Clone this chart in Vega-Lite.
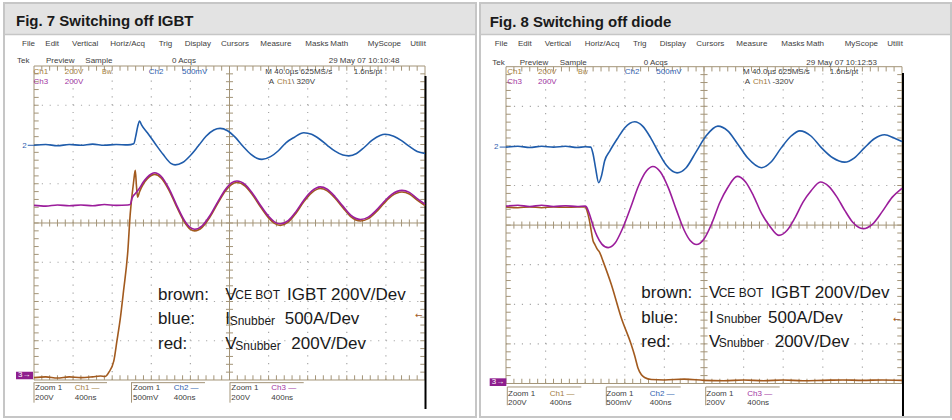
{
"$schema":"https://vega.github.io/schema/vega-lite/v6.json",
"background":"#ffffff",
"padding":{"left":2,"top":2,"right":0,"bottom":0},
"spacing":4,
"bounds":"flush",
"config":{"view":{"stroke":"#c6c6c6","strokeWidth":2},"text":{"font":"Liberation Sans"}},
"datasets":{
"xt":[{"x":0.2},{"x":0.4},{"x":0.6},{"x":0.8},{"x":1},{"x":1.2},{"x":1.4},{"x":1.6},{"x":1.8},{"x":2},{"x":2.2},{"x":2.4},{"x":2.6},{"x":2.8},{"x":3},{"x":3.2},{"x":3.4},{"x":3.6},{"x":3.8},{"x":4},{"x":4.2},{"x":4.4},{"x":4.6},{"x":4.8},{"x":5},{"x":5.2},{"x":5.4},{"x":5.6},{"x":5.8},{"x":6},{"x":6.2},{"x":6.4},{"x":6.6},{"x":6.8},{"x":7},{"x":7.2},{"x":7.4},{"x":7.6},{"x":7.8},{"x":8},{"x":8.2},{"x":8.4},{"x":8.6},{"x":8.8},{"x":9},{"x":9.2},{"x":9.4},{"x":9.6},{"x":9.8}],
"yt":[{"y":0.2},{"y":0.4},{"y":0.6},{"y":0.8},{"y":1},{"y":1.2},{"y":1.4},{"y":1.6},{"y":1.8},{"y":2},{"y":2.2},{"y":2.4},{"y":2.6},{"y":2.8},{"y":3},{"y":3.2},{"y":3.4},{"y":3.6},{"y":3.8},{"y":4},{"y":4.2},{"y":4.4},{"y":4.6},{"y":4.8},{"y":5},{"y":5.2},{"y":5.4},{"y":5.6},{"y":5.8},{"y":6},{"y":6.2},{"y":6.4},{"y":6.6},{"y":6.8},{"y":7},{"y":7.2},{"y":7.4},{"y":7.6},{"y":7.8}],
"gv":[{"x":1},{"x":2},{"x":3},{"x":4},{"x":6},{"x":7},{"x":8},{"x":9}],
"gh":[{"y":1},{"y":2},{"y":3},{"y":5},{"y":6},{"y":7}],
"shapes7":[
{"role":"header","x":-0.742,"x2":11.279,"y":8.815,"y2":9.58},
{"role":"sep","x":-0.767,"x2":11.304,"y":8.803,"y2":8.803},
{"role":"frame","x":0,"x2":10,"y":0,"y2":8},
{"role":"tan","x":5,"x2":5,"y":0,"y2":8},
{"role":"tan","x":0,"x2":10,"y":4,"y2":4},
{"role":"tan","x":-0.008,"x2":1.867,"y":-0.068,"y2":-0.068},
{"role":"tan","x":2.481,"x2":4.373,"y":-0.068,"y2":-0.068},
{"role":"tan","x":5.005,"x2":6.898,"y":-0.068,"y2":-0.068},
{"role":"tan","x":0,"x2":0,"y":-0.068,"y2":-0.578},
{"role":"tan","x":2.494,"x2":2.494,"y":-0.068,"y2":-0.578},
{"role":"tan","x":5.013,"x2":5.013,"y":-0.068,"y2":-0.578},
{"role":"black","x":10.013,"x2":10.013,"y":-0.739,"y2":7.745},
{"role":"box","x":-0.46,"x2":-0.026,"y":0.018,"y2":0.211},
{"role":"dash","x":-0.16,"x2":0,"y":5.98,"y2":5.98}
],
"shapes8":[
{"role":"header","x":-0.631,"x2":11.212,"y":8.826,"y2":9.583},
{"role":"sep","x":-0.657,"x2":11.237,"y":8.813,"y2":8.813},
{"role":"frame","x":0,"x2":10,"y":0,"y2":8},
{"role":"tan","x":5,"x2":5,"y":0,"y2":8},
{"role":"tan","x":0,"x2":10,"y":4,"y2":4},
{"role":"tan","x":0.033,"x2":1.902,"y":-0.088,"y2":-0.088},
{"role":"tan","x":2.533,"x2":4.412,"y":-0.088,"y2":-0.088},
{"role":"tan","x":5.043,"x2":6.912,"y":-0.088,"y2":-0.088},
{"role":"tan","x":0.033,"x2":0.033,"y":-0.088,"y2":-0.55},
{"role":"tan","x":2.533,"x2":2.533,"y":-0.088,"y2":-0.55},
{"role":"tan","x":5.043,"x2":5.043,"y":-0.088,"y2":-0.55},
{"role":"black","x":10.025,"x2":10.025,"y":-0.821,"y2":7.841},
{"role":"box","x":-0.412,"x2":0.008,"y":-0.063,"y2":0.131},
{"role":"dash","x":-0.16,"x2":0,"y":5.97,"y2":5.97}
],
"text7":[
{"role":"title","t":"Fig. 7 Switching off IGBT","x":-0.46,"y":9.134,"ch":"dark"},
{"role":"ui","t":"File","x":-0.307,"y":8.548,"ch":"ui"},
{"role":"ui","t":"Edit","x":0.289,"y":8.548,"ch":"ui"},
{"role":"ui","t":"Vertical","x":0.972,"y":8.548,"ch":"ui"},
{"role":"ui","t":"Horiz/Acq","x":1.951,"y":8.548,"ch":"ui"},
{"role":"ui","t":"Trig","x":3.189,"y":8.548,"ch":"ui"},
{"role":"ui","t":"Display","x":3.854,"y":8.548,"ch":"ui"},
{"role":"ui","t":"Cursors","x":4.783,"y":8.548,"ch":"ui"},
{"role":"ui","t":"Measure","x":5.788,"y":8.548,"ch":"ui"},
{"role":"ui","t":"Masks","x":6.939,"y":8.548,"ch":"ui"},
{"role":"ui","t":"Math","x":7.578,"y":8.548,"ch":"ui"},
{"role":"ui","t":"MyScope","x":8.535,"y":8.548,"ch":"ui"},
{"role":"ui","t":"Utilit","x":9.624,"y":8.548,"ch":"ui"},
{"role":"ui","t":"Tek","x":-0.435,"y":8.115,"ch":"ui"},
{"role":"ui","t":"Preview","x":0.307,"y":8.115,"ch":"ui"},
{"role":"ui","t":"Sample","x":1.312,"y":8.115,"ch":"ui"},
{"role":"ui","t":"0 Acqs","x":3.529,"y":8.115,"ch":"ui"},
{"role":"ui","t":"29 May 07 10:10:48","x":7.537,"y":8.115,"ch":"ui"},
{"role":"ui","t":"Ch1","x":-0.013,"y":7.855,"ch":"ch1"},
{"role":"ui","t":"200V","x":0.785,"y":7.855,"ch":"ch1"},
{"role":"bw","t":"Bw","x":1.739,"y":7.855,"ch":"ch1"},
{"role":"ui","t":"Ch2","x":2.934,"y":7.855,"ch":"ch2"},
{"role":"ui","t":"500mV","x":3.785,"y":7.855,"ch":"ch2"},
{"role":"ui","t":"M 40.0µs 625MS/s","x":5.916,"y":7.855,"ch":"ui"},
{"role":"ui","t":"1.6ns/pt","x":8.176,"y":7.855,"ch":"ui"},
{"role":"ui","t":"Ch3","x":-0.013,"y":7.6,"ch":"ch3"},
{"role":"ui","t":"200V","x":0.785,"y":7.6,"ch":"ch3"},
{"role":"ui","t":"A","x":6.003,"y":7.6,"ch":"ui"},
{"role":"ui","t":"Ch1","x":6.215,"y":7.6,"ch":"ch1"},
{"role":"ui","t":"\\ 320V","x":6.598,"y":7.6,"ch":"ui"},
{"role":"ui","t":"Zoom 1","x":0.026,"y":-0.204,"ch":"ui"},
{"role":"ui","t":"Ch1 —","x":1.041,"y":-0.204,"ch":"ch1"},
{"role":"ui","t":"Zoom 1","x":2.532,"y":-0.204,"ch":"ui"},
{"role":"ui","t":"Ch2 —","x":3.573,"y":-0.204,"ch":"ch2"},
{"role":"ui","t":"Zoom 1","x":5.046,"y":-0.204,"ch":"ui"},
{"role":"ui","t":"Ch3 —","x":6.069,"y":-0.204,"ch":"ch3"},
{"role":"ui","t":"200V","x":0.026,"y":-0.459,"ch":"ui"},
{"role":"ui","t":"400ns","x":1.041,"y":-0.459,"ch":"ui"},
{"role":"ui","t":"500mV","x":2.532,"y":-0.459,"ch":"ui"},
{"role":"ui","t":"400ns","x":3.573,"y":-0.459,"ch":"ui"},
{"role":"ui","t":"200V","x":5.046,"y":-0.459,"ch":"ui"},
{"role":"ui","t":"400ns","x":6.069,"y":-0.459,"ch":"ui"},
{"role":"ui","t":"2","x":-0.3,"y":5.95,"ch":"ch2"},
{"role":"arrow","t":"←","x":9.744,"y":1.648,"ch":"tr1"},
{"role":"marker","t":"3→","x":-0.409,"y":0.115,"ch":"w"},
{"role":"note","t":"brown:","x":3.171,"y":2.166,"ch":"dark"},
{"role":"note","t":"blue:","x":3.171,"y":1.546,"ch":"dark"},
{"role":"note","t":"red:","x":3.171,"y":0.91,"ch":"dark"},
{"role":"note","t":"V","x":4.893,"y":2.166,"ch":"dark"},
{"role":"note","t":"IGBT 200V/Dev","x":6.471,"y":2.166,"ch":"dark"},
{"role":"note","t":"I","x":4.893,"y":1.546,"ch":"dark"},
{"role":"note","t":"500A/Dev","x":6.412,"y":1.546,"ch":"dark"},
{"role":"note","t":"V","x":4.893,"y":0.91,"ch":"dark"},
{"role":"note","t":"200V/Dev","x":6.581,"y":0.91,"ch":"dark"},
{"role":"sub","t":"CE BOT","x":5.148,"y":2.156,"ch":"dark"},
{"role":"sub","t":"Snubber","x":5.005,"y":1.5,"ch":"dark"},
{"role":"sub","t":"Snubber","x":5.148,"y":0.865,"ch":"dark"}
],
"text8":[
{"role":"title","t":"Fig. 8 Switching off diode","x":-0.412,"y":9.141,"ch":"dark"},
{"role":"ui","t":"File","x":-0.285,"y":8.561,"ch":"ui"},
{"role":"ui","t":"Edit","x":0.303,"y":8.561,"ch":"ui"},
{"role":"ui","t":"Vertical","x":0.977,"y":8.561,"ch":"ui"},
{"role":"ui","t":"Horiz/Acq","x":1.987,"y":8.561,"ch":"ui"},
{"role":"ui","t":"Trig","x":3.207,"y":8.561,"ch":"ui"},
{"role":"ui","t":"Display","x":3.881,"y":8.561,"ch":"ui"},
{"role":"ui","t":"Cursors","x":4.806,"y":8.561,"ch":"ui"},
{"role":"ui","t":"Measure","x":5.816,"y":8.561,"ch":"ui"},
{"role":"ui","t":"Masks","x":6.952,"y":8.561,"ch":"ui"},
{"role":"ui","t":"Math","x":7.583,"y":8.561,"ch":"ui"},
{"role":"ui","t":"MyScope","x":8.553,"y":8.561,"ch":"ui"},
{"role":"ui","t":"Utilit","x":9.629,"y":8.561,"ch":"ui"},
{"role":"ui","t":"Tek","x":-0.346,"y":8.106,"ch":"ui"},
{"role":"ui","t":"Preview","x":0.346,"y":8.106,"ch":"ui"},
{"role":"ui","t":"Sample","x":1.356,"y":8.106,"ch":"ui"},
{"role":"ui","t":"0 Acqs","x":3.477,"y":8.106,"ch":"ui"},
{"role":"ui","t":"29 May 07 10:12:53","x":7.583,"y":8.106,"ch":"ui"},
{"role":"ui","t":"Ch1","x":0.033,"y":7.874,"ch":"ch1"},
{"role":"ui","t":"200V","x":0.808,"y":7.874,"ch":"ch1"},
{"role":"bw","t":"Bw","x":1.818,"y":7.874,"ch":"ch1"},
{"role":"ui","t":"Ch2","x":2.997,"y":7.874,"ch":"ch2"},
{"role":"ui","t":"500mV","x":3.795,"y":7.874,"ch":"ch2"},
{"role":"ui","t":"M 40.0µs 625MS/s","x":5.985,"y":7.874,"ch":"ui"},
{"role":"ui","t":"1.6ns/pt","x":8.174,"y":7.874,"ch":"ui"},
{"role":"ui","t":"Ch3","x":0.033,"y":7.621,"ch":"ch3"},
{"role":"ui","t":"200V","x":0.808,"y":7.621,"ch":"ch3"},
{"role":"ui","t":"A","x":6.028,"y":7.621,"ch":"ui"},
{"role":"ui","t":"Ch1","x":6.237,"y":7.621,"ch":"ch1"},
{"role":"ui","t":"\\ -320V","x":6.616,"y":7.621,"ch":"ui"},
{"role":"ui","t":"Zoom 1","x":0.051,"y":-0.258,"ch":"ui"},
{"role":"ui","t":"Ch1 —","x":1.104,"y":-0.258,"ch":"ch1"},
{"role":"ui","t":"Zoom 1","x":2.533,"y":-0.258,"ch":"ui"},
{"role":"ui","t":"Ch2 —","x":3.629,"y":-0.258,"ch":"ch2"},
{"role":"ui","t":"Zoom 1","x":5.058,"y":-0.258,"ch":"ui"},
{"role":"ui","t":"Ch3 —","x":6.093,"y":-0.258,"ch":"ch3"},
{"role":"ui","t":"200V","x":0.051,"y":-0.5,"ch":"ui"},
{"role":"ui","t":"400ns","x":1.104,"y":-0.5,"ch":"ui"},
{"role":"ui","t":"500mV","x":2.533,"y":-0.5,"ch":"ui"},
{"role":"ui","t":"400ns","x":3.629,"y":-0.5,"ch":"ui"},
{"role":"ui","t":"200V","x":5.058,"y":-0.5,"ch":"ui"},
{"role":"ui","t":"400ns","x":6.093,"y":-0.5,"ch":"ui"},
{"role":"ui","t":"2","x":-0.3,"y":5.97,"ch":"ch2"},
{"role":"arrow","t":"←","x":9.773,"y":1.621,"ch":"tr1"},
{"role":"marker","t":"3→","x":-0.36,"y":0.034,"ch":"w"},
{"role":"note","t":"brown:","x":3.417,"y":2.293,"ch":"dark"},
{"role":"note","t":"blue:","x":3.417,"y":1.662,"ch":"dark"},
{"role":"note","t":"red:","x":3.417,"y":1.056,"ch":"dark"},
{"role":"note","t":"V","x":5.126,"y":2.293,"ch":"dark"},
{"role":"note","t":"IGBT 200V/Dev","x":6.684,"y":2.293,"ch":"dark"},
{"role":"note","t":"I","x":5.126,"y":1.662,"ch":"dark"},
{"role":"note","t":"500A/Dev","x":6.616,"y":1.662,"ch":"dark"},
{"role":"note","t":"V","x":5.126,"y":1.056,"ch":"dark"},
{"role":"note","t":"200V/Dev","x":6.785,"y":1.056,"ch":"dark"},
{"role":"sub","t":"CE BOT","x":5.371,"y":2.283,"ch":"dark"},
{"role":"sub","t":"Snubber","x":5.303,"y":1.62,"ch":"dark"},
{"role":"sub","t":"Snubber","x":5.371,"y":1.014,"ch":"dark"}
],
"traces7":[
{"ch":"blue","x":0,"y":5.98},{"ch":"blue","x":0.3,"y":6.0},{"ch":"blue","x":0.6,"y":5.97},{"ch":"blue","x":0.9,"y":6.0},{"ch":"blue","x":1.2,"y":5.98},{"ch":"blue","x":1.5,"y":6.01},{"ch":"blue","x":1.8,"y":5.98},{"ch":"blue","x":2.1,"y":6.0},{"ch":"blue","x":2.4,"y":5.99},{"ch":"blue","x":2.55,"y":6.02},{"ch":"blue","x":2.6,"y":6.2},{"ch":"blue","x":2.65,"y":6.45},{"ch":"blue","x":2.7,"y":6.6},{"ch":"blue","x":2.75,"y":6.5},{"ch":"blue","x":2.9,"y":6.3},{"ch":"blue","x":3.1,"y":6.02},{"ch":"blue","x":3.3,"y":5.75},{"ch":"blue","x":3.5,"y":5.52},{"ch":"blue","x":3.61,"y":5.48},{"ch":"blue","x":3.8,"y":5.54},{"ch":"blue","x":4.0,"y":5.72},{"ch":"blue","x":4.2,"y":5.96},{"ch":"blue","x":4.4,"y":6.21},{"ch":"blue","x":4.6,"y":6.37},{"ch":"blue","x":4.76,"y":6.41},{"ch":"blue","x":4.95,"y":6.35},{"ch":"blue","x":5.15,"y":6.18},{"ch":"blue","x":5.35,"y":5.95},{"ch":"blue","x":5.55,"y":5.75},{"ch":"blue","x":5.7,"y":5.65},{"ch":"blue","x":5.83,"y":5.62},{"ch":"blue","x":6.05,"y":5.69},{"ch":"blue","x":6.25,"y":5.84},{"ch":"blue","x":6.45,"y":6.05},{"ch":"blue","x":6.65,"y":6.18},{"ch":"blue","x":6.9,"y":6.3},{"ch":"blue","x":7.1,"y":6.26},{"ch":"blue","x":7.3,"y":6.14},{"ch":"blue","x":7.5,"y":5.98},{"ch":"blue","x":7.7,"y":5.83},{"ch":"blue","x":7.9,"y":5.73},{"ch":"blue","x":8.05,"y":5.71},{"ch":"blue","x":8.25,"y":5.77},{"ch":"blue","x":8.45,"y":5.93},{"ch":"blue","x":8.65,"y":6.11},{"ch":"blue","x":8.85,"y":6.23},{"ch":"blue","x":8.98,"y":6.26},{"ch":"blue","x":9.2,"y":6.21},{"ch":"blue","x":9.4,"y":6.1},{"ch":"blue","x":9.6,"y":5.95},{"ch":"blue","x":9.8,"y":5.82},{"ch":"blue","x":10,"y":5.77},
{"ch":"purple","x":0,"y":4.45},{"ch":"purple","x":0.3,"y":4.43},{"ch":"purple","x":0.6,"y":4.46},{"ch":"purple","x":0.9,"y":4.44},{"ch":"purple","x":1.2,"y":4.46},{"ch":"purple","x":1.5,"y":4.44},{"ch":"purple","x":1.8,"y":4.47},{"ch":"purple","x":2.1,"y":4.45},{"ch":"purple","x":2.4,"y":4.46},{"ch":"purple","x":2.46,"y":4.47},{"ch":"purple","x":2.51,"y":4.64},{"ch":"purple","x":2.6,"y":4.76},{"ch":"purple","x":2.68,"y":4.86},{"ch":"purple","x":2.8,"y":5.05},{"ch":"purple","x":2.9,"y":5.17},{"ch":"purple","x":3.0,"y":5.25},{"ch":"purple","x":3.09,"y":5.28},{"ch":"purple","x":3.25,"y":5.19},{"ch":"purple","x":3.45,"y":4.88},{"ch":"purple","x":3.65,"y":4.45},{"ch":"purple","x":3.85,"y":4.06},{"ch":"purple","x":4.0,"y":3.88},{"ch":"purple","x":4.11,"y":3.84},{"ch":"purple","x":4.3,"y":3.93},{"ch":"purple","x":4.5,"y":4.19},{"ch":"purple","x":4.7,"y":4.54},{"ch":"purple","x":4.9,"y":4.86},{"ch":"purple","x":5.05,"y":5.02},{"ch":"purple","x":5.19,"y":5.07},{"ch":"purple","x":5.4,"y":4.98},{"ch":"purple","x":5.6,"y":4.74},{"ch":"purple","x":5.8,"y":4.44},{"ch":"purple","x":6.0,"y":4.17},{"ch":"purple","x":6.15,"y":4.03},{"ch":"purple","x":6.3,"y":3.98},{"ch":"purple","x":6.5,"y":4.06},{"ch":"purple","x":6.7,"y":4.29},{"ch":"purple","x":6.9,"y":4.58},{"ch":"purple","x":7.1,"y":4.81},{"ch":"purple","x":7.32,"y":4.92},{"ch":"purple","x":7.5,"y":4.86},{"ch":"purple","x":7.7,"y":4.67},{"ch":"purple","x":7.9,"y":4.43},{"ch":"purple","x":8.1,"y":4.2},{"ch":"purple","x":8.35,"y":4.09},{"ch":"purple","x":8.55,"y":4.15},{"ch":"purple","x":8.75,"y":4.32},{"ch":"purple","x":8.95,"y":4.54},{"ch":"purple","x":9.15,"y":4.73},{"ch":"purple","x":9.41,"y":4.83},{"ch":"purple","x":9.6,"y":4.78},{"ch":"purple","x":9.8,"y":4.62},{"ch":"purple","x":10,"y":4.48},
{"ch":"brown","x":0,"y":0.06},{"ch":"brown","x":0.3,"y":0.08},{"ch":"brown","x":0.6,"y":0.05},{"ch":"brown","x":0.9,"y":0.08},{"ch":"brown","x":1.2,"y":0.06},{"ch":"brown","x":1.5,"y":0.08},{"ch":"brown","x":1.7,"y":0.1},{"ch":"brown","x":1.82,"y":0.09},{"ch":"brown","x":1.91,"y":0.19},{"ch":"brown","x":2.04,"y":0.48},{"ch":"brown","x":2.12,"y":0.99},{"ch":"brown","x":2.21,"y":1.59},{"ch":"brown","x":2.29,"y":2.27},{"ch":"brown","x":2.4,"y":3.29},{"ch":"brown","x":2.46,"y":4.22},{"ch":"brown","x":2.55,"y":5.07},{"ch":"brown","x":2.59,"y":5.34},{"ch":"brown","x":2.62,"y":4.95},{"ch":"brown","x":2.65,"y":4.66},{"ch":"brown","x":2.7,"y":4.8},{"ch":"brown","x":2.8,"y":5.0},{"ch":"brown","x":2.9,"y":5.13},{"ch":"brown","x":3.0,"y":5.21},{"ch":"brown","x":3.09,"y":5.24},{"ch":"brown","x":3.25,"y":5.15},{"ch":"brown","x":3.45,"y":4.84},{"ch":"brown","x":3.65,"y":4.41},{"ch":"brown","x":3.85,"y":4.02},{"ch":"brown","x":4.0,"y":3.84},{"ch":"brown","x":4.11,"y":3.8},{"ch":"brown","x":4.3,"y":3.89},{"ch":"brown","x":4.5,"y":4.15},{"ch":"brown","x":4.7,"y":4.5},{"ch":"brown","x":4.9,"y":4.82},{"ch":"brown","x":5.05,"y":4.98},{"ch":"brown","x":5.19,"y":5.03},{"ch":"brown","x":5.4,"y":4.94},{"ch":"brown","x":5.6,"y":4.7},{"ch":"brown","x":5.8,"y":4.4},{"ch":"brown","x":6.0,"y":4.13},{"ch":"brown","x":6.15,"y":3.99},{"ch":"brown","x":6.3,"y":3.94},{"ch":"brown","x":6.5,"y":4.02},{"ch":"brown","x":6.7,"y":4.25},{"ch":"brown","x":6.9,"y":4.54},{"ch":"brown","x":7.1,"y":4.77},{"ch":"brown","x":7.32,"y":4.88},{"ch":"brown","x":7.5,"y":4.82},{"ch":"brown","x":7.7,"y":4.63},{"ch":"brown","x":7.9,"y":4.39},{"ch":"brown","x":8.1,"y":4.16},{"ch":"brown","x":8.35,"y":4.05},{"ch":"brown","x":8.55,"y":4.11},{"ch":"brown","x":8.75,"y":4.28},{"ch":"brown","x":8.95,"y":4.5},{"ch":"brown","x":9.15,"y":4.69},{"ch":"brown","x":9.41,"y":4.79},{"ch":"brown","x":9.6,"y":4.74},{"ch":"brown","x":9.8,"y":4.58},{"ch":"brown","x":10,"y":4.44}
],
"traces8":[
{"ch":"blue","x":0,"y":5.97},{"ch":"blue","x":0.3,"y":5.99},{"ch":"blue","x":0.6,"y":5.96},{"ch":"blue","x":0.9,"y":5.99},{"ch":"blue","x":1.2,"y":5.97},{"ch":"blue","x":1.5,"y":5.99},{"ch":"blue","x":1.8,"y":5.96},{"ch":"blue","x":2.0,"y":5.98},{"ch":"blue","x":2.14,"y":5.97},{"ch":"blue","x":2.2,"y":5.79},{"ch":"blue","x":2.26,"y":5.45},{"ch":"blue","x":2.34,"y":5.07},{"ch":"blue","x":2.41,"y":5.24},{"ch":"blue","x":2.49,"y":5.62},{"ch":"blue","x":2.62,"y":5.87},{"ch":"blue","x":2.83,"y":6.21},{"ch":"blue","x":3.0,"y":6.46},{"ch":"blue","x":3.25,"y":6.61},{"ch":"blue","x":3.45,"y":6.5},{"ch":"blue","x":3.65,"y":6.21},{"ch":"blue","x":3.85,"y":5.84},{"ch":"blue","x":4.05,"y":5.51},{"ch":"blue","x":4.32,"y":5.32},{"ch":"blue","x":4.55,"y":5.45},{"ch":"blue","x":4.8,"y":5.85},{"ch":"blue","x":5.05,"y":6.25},{"ch":"blue","x":5.35,"y":6.5},{"ch":"blue","x":5.6,"y":6.38},{"ch":"blue","x":5.85,"y":6.05},{"ch":"blue","x":6.1,"y":5.7},{"ch":"blue","x":6.45,"y":5.45},{"ch":"blue","x":6.7,"y":5.6},{"ch":"blue","x":6.95,"y":5.95},{"ch":"blue","x":7.2,"y":6.25},{"ch":"blue","x":7.42,"y":6.38},{"ch":"blue","x":7.7,"y":6.25},{"ch":"blue","x":7.95,"y":5.97},{"ch":"blue","x":8.25,"y":5.7},{"ch":"blue","x":8.55,"y":5.59},{"ch":"blue","x":8.8,"y":5.7},{"ch":"blue","x":9.05,"y":5.95},{"ch":"blue","x":9.3,"y":6.18},{"ch":"blue","x":9.56,"y":6.28},{"ch":"blue","x":9.8,"y":6.2},{"ch":"blue","x":10,"y":6.11},
{"ch":"purple","x":0,"y":4.48},{"ch":"purple","x":0.3,"y":4.5},{"ch":"purple","x":0.6,"y":4.47},{"ch":"purple","x":0.9,"y":4.5},{"ch":"purple","x":1.2,"y":4.47},{"ch":"purple","x":1.5,"y":4.49},{"ch":"purple","x":1.8,"y":4.47},{"ch":"purple","x":2.0,"y":4.48},{"ch":"purple","x":2.03,"y":4.46},{"ch":"purple","x":2.1,"y":4.3},{"ch":"purple","x":2.2,"y":3.98},{"ch":"purple","x":2.3,"y":3.72},{"ch":"purple","x":2.42,"y":3.52},{"ch":"purple","x":2.58,"y":3.43},{"ch":"purple","x":2.75,"y":3.54},{"ch":"purple","x":2.95,"y":3.93},{"ch":"purple","x":3.15,"y":4.45},{"ch":"purple","x":3.35,"y":5.0},{"ch":"purple","x":3.55,"y":5.37},{"ch":"purple","x":3.71,"y":5.48},{"ch":"purple","x":3.9,"y":5.34},{"ch":"purple","x":4.1,"y":4.94},{"ch":"purple","x":4.3,"y":4.39},{"ch":"purple","x":4.5,"y":3.87},{"ch":"purple","x":4.65,"y":3.61},{"ch":"purple","x":4.81,"y":3.51},{"ch":"purple","x":5.0,"y":3.65},{"ch":"purple","x":5.2,"y":4.05},{"ch":"purple","x":5.4,"y":4.57},{"ch":"purple","x":5.6,"y":4.95},{"ch":"purple","x":5.84,"y":5.23},{"ch":"purple","x":6.05,"y":5.09},{"ch":"purple","x":6.25,"y":4.74},{"ch":"purple","x":6.45,"y":4.3},{"ch":"purple","x":6.65,"y":3.99},{"ch":"purple","x":6.89,"y":3.74},{"ch":"purple","x":7.1,"y":3.87},{"ch":"purple","x":7.3,"y":4.19},{"ch":"purple","x":7.5,"y":4.58},{"ch":"purple","x":7.7,"y":4.86},{"ch":"purple","x":7.94,"y":5.09},{"ch":"purple","x":8.15,"y":4.98},{"ch":"purple","x":8.35,"y":4.72},{"ch":"purple","x":8.55,"y":4.38},{"ch":"purple","x":8.75,"y":4.08},{"ch":"purple","x":9.02,"y":3.91},{"ch":"purple","x":9.25,"y":4.02},{"ch":"purple","x":9.5,"y":4.34},{"ch":"purple","x":9.75,"y":4.7},{"ch":"purple","x":10,"y":4.93},
{"ch":"brown","x":0,"y":4.46},{"ch":"brown","x":0.3,"y":4.44},{"ch":"brown","x":0.6,"y":4.46},{"ch":"brown","x":0.9,"y":4.44},{"ch":"brown","x":1.2,"y":4.46},{"ch":"brown","x":1.5,"y":4.45},{"ch":"brown","x":1.8,"y":4.46},{"ch":"brown","x":2.0,"y":4.46},{"ch":"brown","x":2.05,"y":4.35},{"ch":"brown","x":2.1,"y":4.15},{"ch":"brown","x":2.14,"y":3.93},{"ch":"brown","x":2.2,"y":3.6},{"ch":"brown","x":2.24,"y":3.52},{"ch":"brown","x":2.3,"y":3.4},{"ch":"brown","x":2.37,"y":3.3},{"ch":"brown","x":2.45,"y":3.09},{"ch":"brown","x":2.66,"y":2.5},{"ch":"brown","x":2.91,"y":1.66},{"ch":"brown","x":3.16,"y":0.99},{"ch":"brown","x":3.25,"y":0.7},{"ch":"brown","x":3.33,"y":0.4},{"ch":"brown","x":3.42,"y":0.22},{"ch":"brown","x":3.5,"y":0.15},{"ch":"brown","x":3.67,"y":0.1},{"ch":"brown","x":4.0,"y":0.09},{"ch":"brown","x":4.5,"y":0.11},{"ch":"brown","x":5.0,"y":0.08},{"ch":"brown","x":5.5,"y":0.07},{"ch":"brown","x":6.0,"y":0.09},{"ch":"brown","x":6.5,"y":0.07},{"ch":"brown","x":7.0,"y":0.09},{"ch":"brown","x":7.5,"y":0.07},{"ch":"brown","x":8.0,"y":0.08},{"ch":"brown","x":8.5,"y":0.09},{"ch":"brown","x":9.0,"y":0.08},{"ch":"brown","x":9.5,"y":0.09},{"ch":"brown","x":10,"y":0.08}
]
},
"hconcat":[
{
"width":472,"height":414,
"layer":[
{
"encoding":{
"x":{"field":"x","type":"quantitative","scale":{"domain":[-0.7673,11.3043],"nice":false,"zero":false},"axis":null},
"y":{"field":"y","type":"quantitative","scale":{"domain":[-0.9427,9.6051],"nice":false,"zero":false},"axis":null}
},
"layer":[
{"data":{"name":"shapes7"},"transform":[{"filter":"datum.role==='header'"}],"mark":{"type":"rect","fill":"#e3e3e3"},"encoding":{"x2":{"field":"x2"},"y2":{"field":"y2"}}},
{"data":{"name":"shapes7"},"transform":[{"filter":"datum.role==='sep'"}],"mark":{"type":"rule","color":"#c6c6c6","strokeWidth":1.5},"encoding":{"x2":{"field":"x2"},"y2":{"field":"y2"}}}
]
},
{
"layer":[
{"data":{"name":"gv"},"mark":{"type":"rule","color":"#a8a8a8","strokeWidth":1.2,"strokeDash":[1.2,6.65]},"encoding":{"x":{"field":"x","type":"quantitative","scale":{"domain":[-0.7673,11.3043],"nice":false,"zero":false},"axis":null},"y":{"datum":0,"type":"quantitative","scale":{"domain":[-0.9427,9.6051],"nice":false,"zero":false},"axis":null},"y2":{"datum":8}}},
{"data":{"name":"gh"},"mark":{"type":"rule","color":"#a8a8a8","strokeWidth":1.2,"strokeDash":[1.2,6.62]},"encoding":{"y":{"field":"y","type":"quantitative","scale":{"domain":[-0.9427,9.6051],"nice":false,"zero":false},"axis":null},"x":{"datum":0,"type":"quantitative","scale":{"domain":[-0.7673,11.3043],"nice":false,"zero":false},"axis":null},"x2":{"datum":10}}},
{"data":{"name":"xt"},"mark":{"type":"rule","color":"#a39478","strokeWidth":1},"encoding":{"x":{"field":"x","type":"quantitative","scale":{"domain":[-0.7673,11.3043],"nice":false,"zero":false},"axis":null},"y":{"datum":3.91,"type":"quantitative","scale":{"domain":[-0.9427,9.6051],"nice":false,"zero":false},"axis":null},"y2":{"datum":4.09}}},
{"data":{"name":"xt"},"mark":{"type":"rule","color":"#a39478","strokeWidth":1},"encoding":{"x":{"field":"x","type":"quantitative","scale":{"domain":[-0.7673,11.3043],"nice":false,"zero":false},"axis":null},"y":{"datum":0,"type":"quantitative","scale":{"domain":[-0.9427,9.6051],"nice":false,"zero":false},"axis":null},"y2":{"datum":0.12}}},
{"data":{"name":"xt"},"mark":{"type":"rule","color":"#a39478","strokeWidth":1},"encoding":{"x":{"field":"x","type":"quantitative","scale":{"domain":[-0.7673,11.3043],"nice":false,"zero":false},"axis":null},"y":{"datum":7.88,"type":"quantitative","scale":{"domain":[-0.9427,9.6051],"nice":false,"zero":false},"axis":null},"y2":{"datum":8}}},
{"data":{"name":"yt"},"mark":{"type":"rule","color":"#a39478","strokeWidth":1},"encoding":{"y":{"field":"y","type":"quantitative","scale":{"domain":[-0.9427,9.6051],"nice":false,"zero":false},"axis":null},"x":{"datum":4.91,"type":"quantitative","scale":{"domain":[-0.7673,11.3043],"nice":false,"zero":false},"axis":null},"x2":{"datum":5.09}}},
{"data":{"name":"yt"},"mark":{"type":"rule","color":"#a39478","strokeWidth":1},"encoding":{"y":{"field":"y","type":"quantitative","scale":{"domain":[-0.9427,9.6051],"nice":false,"zero":false},"axis":null},"x":{"datum":0,"type":"quantitative","scale":{"domain":[-0.7673,11.3043],"nice":false,"zero":false},"axis":null},"x2":{"datum":0.12}}},
{"data":{"name":"yt"},"mark":{"type":"rule","color":"#a39478","strokeWidth":1},"encoding":{"y":{"field":"y","type":"quantitative","scale":{"domain":[-0.9427,9.6051],"nice":false,"zero":false},"axis":null},"x":{"datum":9.88,"type":"quantitative","scale":{"domain":[-0.7673,11.3043],"nice":false,"zero":false},"axis":null},"x2":{"datum":10}}}
]
},
{
"encoding":{
"x":{"field":"x","type":"quantitative","scale":{"domain":[-0.7673,11.3043],"nice":false,"zero":false},"axis":null},
"y":{"field":"y","type":"quantitative","scale":{"domain":[-0.9427,9.6051],"nice":false,"zero":false},"axis":null}
},
"layer":[
{"data":{"name":"shapes7"},"transform":[{"filter":"datum.role==='frame'"}],"mark":{"type":"rect","filled":false,"stroke":"#a39478","strokeWidth":1},"encoding":{"x2":{"field":"x2"},"y2":{"field":"y2"}}},
{"data":{"name":"shapes7"},"transform":[{"filter":"datum.role==='tan'"}],"mark":{"type":"rule","color":"#a39478","strokeWidth":1},"encoding":{"x2":{"field":"x2"},"y2":{"field":"y2"}}},
{"data":{"name":"shapes7"},"transform":[{"filter":"datum.role==='black'"}],"mark":{"type":"rule","color":"#000000","strokeWidth":2},"encoding":{"x2":{"field":"x2"},"y2":{"field":"y2"}}},
{"data":{"name":"shapes7"},"transform":[{"filter":"datum.role==='box'"}],"mark":{"type":"rect","fill":"#8e1e8e"},"encoding":{"x2":{"field":"x2"},"y2":{"field":"y2"}}},
{"data":{"name":"shapes7"},"transform":[{"filter":"datum.role==='dash'"}],"mark":{"type":"rule","color":"#2f62b0","strokeWidth":1},"encoding":{"x2":{"field":"x2"},"y2":{"field":"y2"}}},
{"data":{"name":"traces7"},"transform":[{"filter":"datum.ch==='brown'"}],"mark":{"type":"line","color":"#a25a1e","strokeWidth":1.6,"interpolate":"monotone"}},
{"data":{"name":"traces7"},"transform":[{"filter":"datum.ch==='blue'"}],"mark":{"type":"line","color":"#1f5cab","strokeWidth":1.6,"interpolate":"monotone"}},
{"data":{"name":"traces7"},"transform":[{"filter":"datum.ch==='purple'"}],"mark":{"type":"line","color":"#9b1d9b","strokeWidth":1.6,"interpolate":"monotone"}},
{"data":{"name":"text7"},"transform":[{"filter":"datum.role==='title'"}],"mark":{"type":"text","align":"left","baseline":"middle","font":"Liberation Sans","fontSize":15,"fontWeight":"bold"},"encoding":{"text":{"field":"t"},"color":{"field":"ch","type":"nominal","scale":{"domain":["ui","ch1","ch2","ch3","w","tr1","dark"],"range":["#404040","#a37c3c","#2f62b0","#a234a2","#ffffff","#a25a1e","#1a1a1a"]},"legend":null}}},
{"data":{"name":"text7"},"transform":[{"filter":"datum.role==='ui'"}],"mark":{"type":"text","align":"left","baseline":"middle","font":"Liberation Sans","fontSize":8},"encoding":{"text":{"field":"t"},"color":{"field":"ch","type":"nominal","scale":{"domain":["ui","ch1","ch2","ch3","w","tr1","dark"],"range":["#404040","#a37c3c","#2f62b0","#a234a2","#ffffff","#a25a1e","#1a1a1a"]},"legend":null}}},
{"data":{"name":"text7"},"transform":[{"filter":"datum.role==='bw'"}],"mark":{"type":"text","align":"left","baseline":"middle","font":"Liberation Sans","fontSize":7},"encoding":{"text":{"field":"t"},"color":{"field":"ch","type":"nominal","scale":{"domain":["ui","ch1","ch2","ch3","w","tr1","dark"],"range":["#404040","#a37c3c","#2f62b0","#a234a2","#ffffff","#a25a1e","#1a1a1a"]},"legend":null}}},
{"data":{"name":"text7"},"transform":[{"filter":"datum.role==='marker'"}],"mark":{"type":"text","align":"left","baseline":"middle","font":"Liberation Sans","fontSize":8},"encoding":{"text":{"field":"t"},"color":{"field":"ch","type":"nominal","scale":{"domain":["ui","ch1","ch2","ch3","w","tr1","dark"],"range":["#404040","#a37c3c","#2f62b0","#a234a2","#ffffff","#a25a1e","#1a1a1a"]},"legend":null}}},
{"data":{"name":"text7"},"transform":[{"filter":"datum.role==='arrow'"}],"mark":{"type":"text","align":"left","baseline":"middle","font":"DejaVu Sans","fontSize":9},"encoding":{"text":{"field":"t"},"color":{"field":"ch","type":"nominal","scale":{"domain":["ui","ch1","ch2","ch3","w","tr1","dark"],"range":["#404040","#a37c3c","#2f62b0","#a234a2","#ffffff","#a25a1e","#1a1a1a"]},"legend":null}}},
{"data":{"name":"text7"},"transform":[{"filter":"datum.role==='note'"}],"mark":{"type":"text","align":"left","baseline":"middle","font":"Liberation Sans","fontSize":17},"encoding":{"text":{"field":"t"},"color":{"field":"ch","type":"nominal","scale":{"domain":["ui","ch1","ch2","ch3","w","tr1","dark"],"range":["#404040","#a37c3c","#2f62b0","#a234a2","#ffffff","#a25a1e","#1a1a1a"]},"legend":null}}},
{"data":{"name":"text7"},"transform":[{"filter":"datum.role==='sub'"}],"mark":{"type":"text","align":"left","baseline":"middle","font":"Liberation Sans","fontSize":12},"encoding":{"text":{"field":"t"},"color":{"field":"ch","type":"nominal","scale":{"domain":["ui","ch1","ch2","ch3","w","tr1","dark"],"range":["#404040","#a37c3c","#2f62b0","#a234a2","#ffffff","#a25a1e","#1a1a1a"]},"legend":null}}}
]
}
]
},
{
"width":471,"height":414,
"layer":[
{
"encoding":{
"x":{"field":"x","type":"quantitative","scale":{"domain":[-0.6566,11.2374],"nice":false,"zero":false},"axis":null},
"y":{"field":"y","type":"quantitative","scale":{"domain":[-0.846,9.6086],"nice":false,"zero":false},"axis":null}
},
"layer":[
{"data":{"name":"shapes8"},"transform":[{"filter":"datum.role==='header'"}],"mark":{"type":"rect","fill":"#e3e3e3"},"encoding":{"x2":{"field":"x2"},"y2":{"field":"y2"}}},
{"data":{"name":"shapes8"},"transform":[{"filter":"datum.role==='sep'"}],"mark":{"type":"rule","color":"#c6c6c6","strokeWidth":1.5},"encoding":{"x2":{"field":"x2"},"y2":{"field":"y2"}}}
]
},
{
"layer":[
{"data":{"name":"gv"},"mark":{"type":"rule","color":"#a8a8a8","strokeWidth":1.2,"strokeDash":[1.2,6.72]},"encoding":{"x":{"field":"x","type":"quantitative","scale":{"domain":[-0.6566,11.2374],"nice":false,"zero":false},"axis":null},"y":{"datum":0,"type":"quantitative","scale":{"domain":[-0.846,9.6086],"nice":false,"zero":false},"axis":null},"y2":{"datum":8}}},
{"data":{"name":"gh"},"mark":{"type":"rule","color":"#a8a8a8","strokeWidth":1.2,"strokeDash":[1.2,6.72]},"encoding":{"y":{"field":"y","type":"quantitative","scale":{"domain":[-0.846,9.6086],"nice":false,"zero":false},"axis":null},"x":{"datum":0,"type":"quantitative","scale":{"domain":[-0.6566,11.2374],"nice":false,"zero":false},"axis":null},"x2":{"datum":10}}},
{"data":{"name":"xt"},"mark":{"type":"rule","color":"#a39478","strokeWidth":1},"encoding":{"x":{"field":"x","type":"quantitative","scale":{"domain":[-0.6566,11.2374],"nice":false,"zero":false},"axis":null},"y":{"datum":3.91,"type":"quantitative","scale":{"domain":[-0.846,9.6086],"nice":false,"zero":false},"axis":null},"y2":{"datum":4.09}}},
{"data":{"name":"xt"},"mark":{"type":"rule","color":"#a39478","strokeWidth":1},"encoding":{"x":{"field":"x","type":"quantitative","scale":{"domain":[-0.6566,11.2374],"nice":false,"zero":false},"axis":null},"y":{"datum":0,"type":"quantitative","scale":{"domain":[-0.846,9.6086],"nice":false,"zero":false},"axis":null},"y2":{"datum":0.12}}},
{"data":{"name":"xt"},"mark":{"type":"rule","color":"#a39478","strokeWidth":1},"encoding":{"x":{"field":"x","type":"quantitative","scale":{"domain":[-0.6566,11.2374],"nice":false,"zero":false},"axis":null},"y":{"datum":7.88,"type":"quantitative","scale":{"domain":[-0.846,9.6086],"nice":false,"zero":false},"axis":null},"y2":{"datum":8}}},
{"data":{"name":"yt"},"mark":{"type":"rule","color":"#a39478","strokeWidth":1},"encoding":{"y":{"field":"y","type":"quantitative","scale":{"domain":[-0.846,9.6086],"nice":false,"zero":false},"axis":null},"x":{"datum":4.91,"type":"quantitative","scale":{"domain":[-0.6566,11.2374],"nice":false,"zero":false},"axis":null},"x2":{"datum":5.09}}},
{"data":{"name":"yt"},"mark":{"type":"rule","color":"#a39478","strokeWidth":1},"encoding":{"y":{"field":"y","type":"quantitative","scale":{"domain":[-0.846,9.6086],"nice":false,"zero":false},"axis":null},"x":{"datum":0,"type":"quantitative","scale":{"domain":[-0.6566,11.2374],"nice":false,"zero":false},"axis":null},"x2":{"datum":0.12}}},
{"data":{"name":"yt"},"mark":{"type":"rule","color":"#a39478","strokeWidth":1},"encoding":{"y":{"field":"y","type":"quantitative","scale":{"domain":[-0.846,9.6086],"nice":false,"zero":false},"axis":null},"x":{"datum":9.88,"type":"quantitative","scale":{"domain":[-0.6566,11.2374],"nice":false,"zero":false},"axis":null},"x2":{"datum":10}}}
]
},
{
"encoding":{
"x":{"field":"x","type":"quantitative","scale":{"domain":[-0.6566,11.2374],"nice":false,"zero":false},"axis":null},
"y":{"field":"y","type":"quantitative","scale":{"domain":[-0.846,9.6086],"nice":false,"zero":false},"axis":null}
},
"layer":[
{"data":{"name":"shapes8"},"transform":[{"filter":"datum.role==='frame'"}],"mark":{"type":"rect","filled":false,"stroke":"#a39478","strokeWidth":1},"encoding":{"x2":{"field":"x2"},"y2":{"field":"y2"}}},
{"data":{"name":"shapes8"},"transform":[{"filter":"datum.role==='tan'"}],"mark":{"type":"rule","color":"#a39478","strokeWidth":1},"encoding":{"x2":{"field":"x2"},"y2":{"field":"y2"}}},
{"data":{"name":"shapes8"},"transform":[{"filter":"datum.role==='black'"}],"mark":{"type":"rule","color":"#000000","strokeWidth":2},"encoding":{"x2":{"field":"x2"},"y2":{"field":"y2"}}},
{"data":{"name":"shapes8"},"transform":[{"filter":"datum.role==='box'"}],"mark":{"type":"rect","fill":"#8e1e8e"},"encoding":{"x2":{"field":"x2"},"y2":{"field":"y2"}}},
{"data":{"name":"shapes8"},"transform":[{"filter":"datum.role==='dash'"}],"mark":{"type":"rule","color":"#2f62b0","strokeWidth":1},"encoding":{"x2":{"field":"x2"},"y2":{"field":"y2"}}},
{"data":{"name":"traces8"},"transform":[{"filter":"datum.ch==='brown'"}],"mark":{"type":"line","color":"#a25a1e","strokeWidth":1.6,"interpolate":"monotone"}},
{"data":{"name":"traces8"},"transform":[{"filter":"datum.ch==='blue'"}],"mark":{"type":"line","color":"#1f5cab","strokeWidth":1.6,"interpolate":"monotone"}},
{"data":{"name":"traces8"},"transform":[{"filter":"datum.ch==='purple'"}],"mark":{"type":"line","color":"#9b1d9b","strokeWidth":1.6,"interpolate":"monotone"}},
{"data":{"name":"text8"},"transform":[{"filter":"datum.role==='title'"}],"mark":{"type":"text","align":"left","baseline":"middle","font":"Liberation Sans","fontSize":15,"fontWeight":"bold"},"encoding":{"text":{"field":"t"},"color":{"field":"ch","type":"nominal","scale":{"domain":["ui","ch1","ch2","ch3","w","tr1","dark"],"range":["#404040","#a37c3c","#2f62b0","#a234a2","#ffffff","#a25a1e","#1a1a1a"]},"legend":null}}},
{"data":{"name":"text8"},"transform":[{"filter":"datum.role==='ui'"}],"mark":{"type":"text","align":"left","baseline":"middle","font":"Liberation Sans","fontSize":8},"encoding":{"text":{"field":"t"},"color":{"field":"ch","type":"nominal","scale":{"domain":["ui","ch1","ch2","ch3","w","tr1","dark"],"range":["#404040","#a37c3c","#2f62b0","#a234a2","#ffffff","#a25a1e","#1a1a1a"]},"legend":null}}},
{"data":{"name":"text8"},"transform":[{"filter":"datum.role==='bw'"}],"mark":{"type":"text","align":"left","baseline":"middle","font":"Liberation Sans","fontSize":7},"encoding":{"text":{"field":"t"},"color":{"field":"ch","type":"nominal","scale":{"domain":["ui","ch1","ch2","ch3","w","tr1","dark"],"range":["#404040","#a37c3c","#2f62b0","#a234a2","#ffffff","#a25a1e","#1a1a1a"]},"legend":null}}},
{"data":{"name":"text8"},"transform":[{"filter":"datum.role==='marker'"}],"mark":{"type":"text","align":"left","baseline":"middle","font":"Liberation Sans","fontSize":8},"encoding":{"text":{"field":"t"},"color":{"field":"ch","type":"nominal","scale":{"domain":["ui","ch1","ch2","ch3","w","tr1","dark"],"range":["#404040","#a37c3c","#2f62b0","#a234a2","#ffffff","#a25a1e","#1a1a1a"]},"legend":null}}},
{"data":{"name":"text8"},"transform":[{"filter":"datum.role==='arrow'"}],"mark":{"type":"text","align":"left","baseline":"middle","font":"DejaVu Sans","fontSize":9},"encoding":{"text":{"field":"t"},"color":{"field":"ch","type":"nominal","scale":{"domain":["ui","ch1","ch2","ch3","w","tr1","dark"],"range":["#404040","#a37c3c","#2f62b0","#a234a2","#ffffff","#a25a1e","#1a1a1a"]},"legend":null}}},
{"data":{"name":"text8"},"transform":[{"filter":"datum.role==='note'"}],"mark":{"type":"text","align":"left","baseline":"middle","font":"Liberation Sans","fontSize":17},"encoding":{"text":{"field":"t"},"color":{"field":"ch","type":"nominal","scale":{"domain":["ui","ch1","ch2","ch3","w","tr1","dark"],"range":["#404040","#a37c3c","#2f62b0","#a234a2","#ffffff","#a25a1e","#1a1a1a"]},"legend":null}}},
{"data":{"name":"text8"},"transform":[{"filter":"datum.role==='sub'"}],"mark":{"type":"text","align":"left","baseline":"middle","font":"Liberation Sans","fontSize":12},"encoding":{"text":{"field":"t"},"color":{"field":"ch","type":"nominal","scale":{"domain":["ui","ch1","ch2","ch3","w","tr1","dark"],"range":["#404040","#a37c3c","#2f62b0","#a234a2","#ffffff","#a25a1e","#1a1a1a"]},"legend":null}}}
]
}
]
}
]
}
